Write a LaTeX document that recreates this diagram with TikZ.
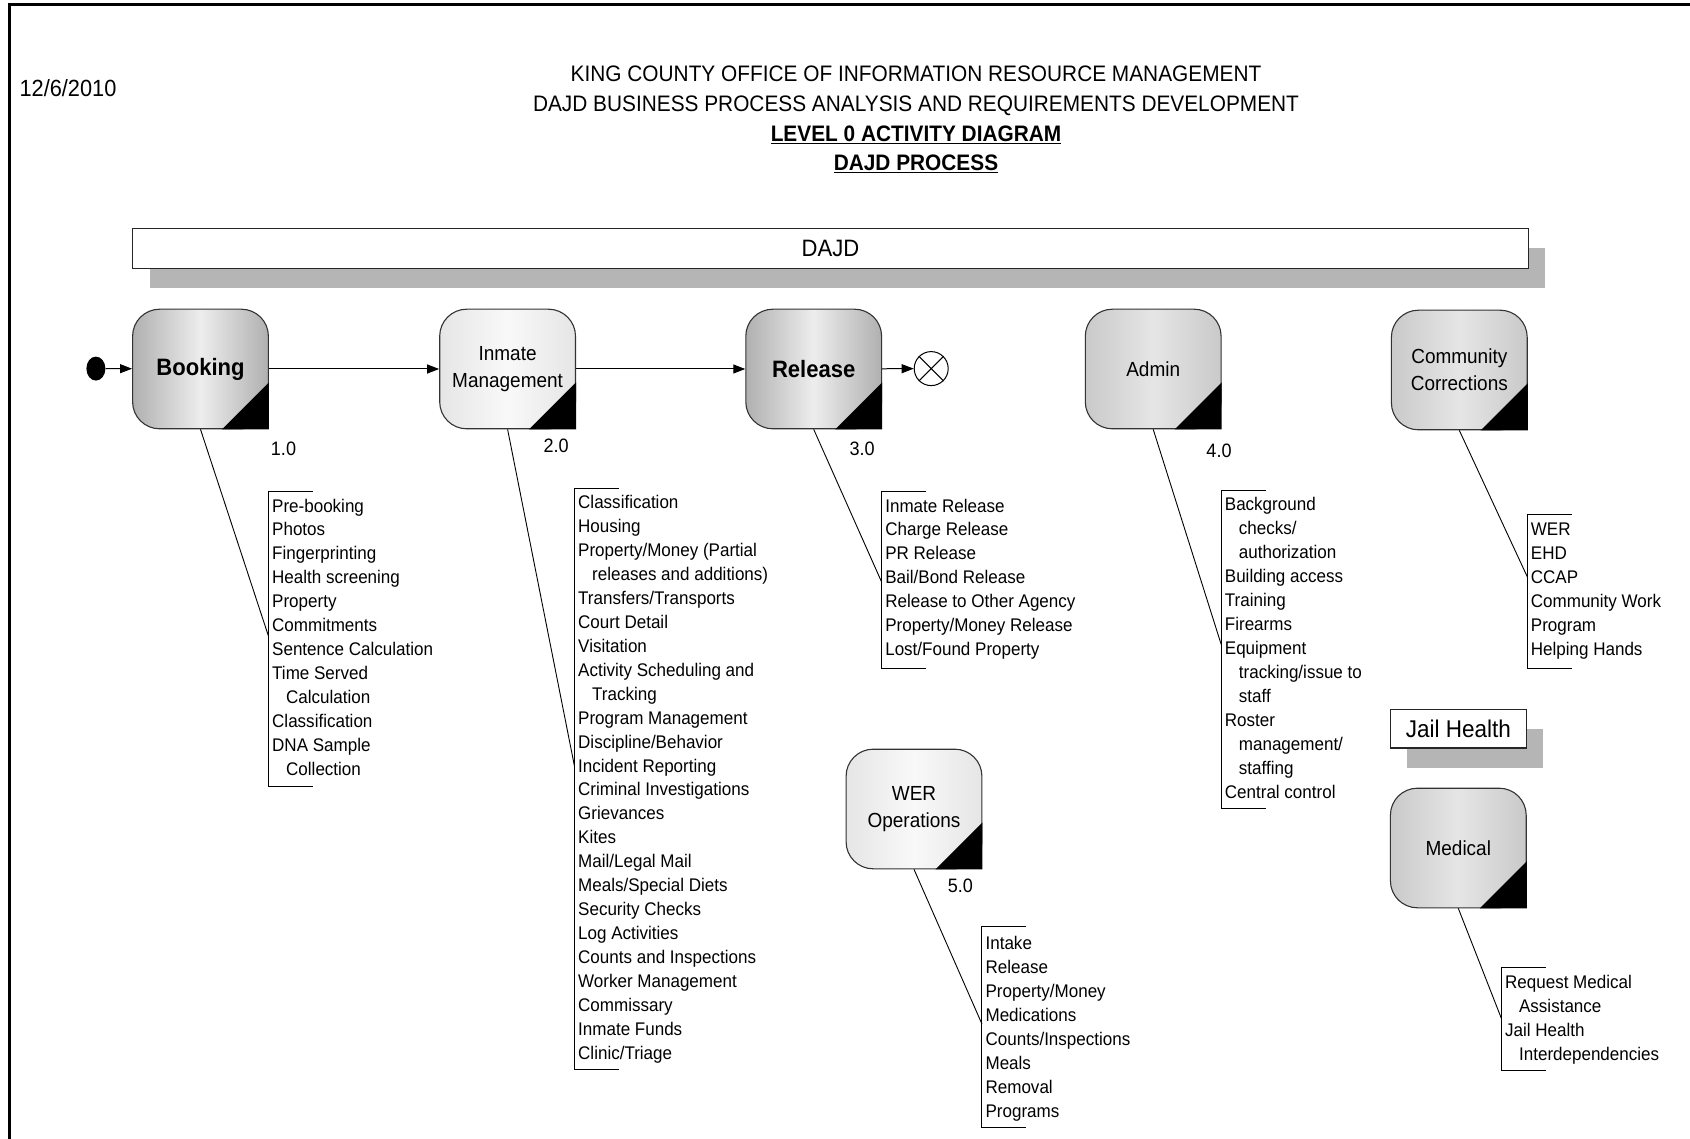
\documentclass[tikz,border=0pt]{standalone}
\usepackage{fontspec}
\setmainfont[FakeStretch=0.93]{Liberation Sans}
\usetikzlibrary{arrows.meta,shapes.geometric,calc}
\newcommand\lstfont{\fontsize{18.3}{24}\selectfont}
\newcommand\actfont{\fontsize{20.4}{27}\selectfont}
\newcommand\actbfont{\fontsize{23.7}{27}\selectfont\bfseries}
\newcommand\ttlfont{\fontsize{22.4}{30}\selectfont}
\newcommand\lstind{\hspace*{14pt}}
\newcommand\drawlist[4]{%
  \foreach \itm [count=\nn] in {#4} {%
    \node[lst] (#1\nn) at (#2,{#3+6.5+(\nn-1)*23.93}) {\itm};
  }%
}
\newcommand\bracketat[4]{%
  \node[bknode, minimum height=#4pt] (#1) at (#2,#3) {};
  \draw[bkt] (#1.north east) -- (#1.north west) -- (#1.south west) -- (#1.south east);
}
\newcommand\cornertri[1]{%
  \fill[black] ([xshift=-47pt]#1.south east) -- (#1.south east) -- ([yshift=47pt]#1.south east) -- cycle;
}
\begin{document}
\begin{tikzpicture}[x=1pt,y=-1pt,
  lst/.style={anchor=base west, inner sep=0pt, font=\lstfont},
  num/.style={inner sep=0pt, font=\fontsize{19.4}{21}\selectfont},
  ttl/.style={anchor=base, inner sep=0pt, font=\ttlfont},
  act/.style={draw=black!80, line width=1.1pt, rounded corners=27pt, minimum width=135.8pt, minimum height=119.6pt, inner sep=0pt, align=center, font=\actfont},
  darkfill/.style={left color=gray!62, right color=gray!62, middle color=gray!14},
  midfill/.style={left color=gray!42, right color=gray!42, middle color=gray!20},
  lightfill/.style={left color=gray!20, right color=gray!20, middle color=gray!5},
  flow/.style={line width=1pt, -{Triangle[length=12pt,width=9pt]}},
  conn/.style={line width=0.9pt},
  bkt/.style={line width=1pt},
  bknode/.style={anchor=north west, minimum width=44pt, inner sep=0pt},
  shadowfill/.style={fill=gray!58},
  banner/.style={draw=black!85, line width=1.3pt, fill=white, inner sep=0pt}
]
\useasboundingbox (0,0) rectangle (1690,1139);
% frame
\draw[line width=3pt] (1690,5) -- (9,5) -- (9,1139);
% header
\node[anchor=base west, inner sep=0pt, font=\fontsize{23.4}{25}\selectfont] (date) at (19.4,96.8) {12/6/2010};
\node[ttl] (t1) at (916,81.3) {KING COUNTY OFFICE OF INFORMATION RESOURCE MANAGEMENT};
\node[ttl] (t2) at (916,111.5) {DAJD BUSINESS PROCESS ANALYSIS AND REQUIREMENTS DEVELOPMENT};
\node[ttl] (t3) at (916,141.6) {\bfseries\underline{LEVEL 0 ACTIVITY DIAGRAM}};
\node[ttl] (t4) at (916,170.7) {\bfseries\underline{DAJD PROCESS}};
% DAJD bar
\fill[shadowfill] (149.6,248.5) rectangle (1545.3,288.4);
\node[banner, minimum width=1395.7pt, minimum height=39.9pt, font=\fontsize{23.7}{25}\selectfont] (dajd) at (830.5,248.5) {DAJD};
% Jail Health
\fill[shadowfill] (1407.4,729.2) rectangle (1543.2,768);
\node[banner, minimum width=135.8pt, minimum height=38.8pt, font=\fontsize{24.2}{26}\selectfont] (jh) at (1458.3,728.6) {Jail Health};
% activities
\node[act, darkfill, font=\actbfont] (B) at (200.5,369) {Booking};
\node[act, lightfill] (IM) at (507.6,369) {Inmate\\Management};
\node[act, darkfill, font=\actbfont] (R) at (813.7,369) {Release};
\node[act, midfill] (A) at (1153.2,369) {Admin};
\node[act, midfill] (CC) at (1459.3,370) {Community\\Corrections};
\node[act, lightfill] (W) at (914,809) {WER\\Operations};
\node[act, midfill] (M) at (1458.3,848) {Medical};
\cornertri{B}\cornertri{IM}\cornertri{R}\cornertri{A}\cornertri{CC}\cornertri{W}\cornertri{M}
% numbers
\node[num] (n1) at (283.5,448.4) {1.0};
\node[num] (n2) at (556.1,446.2) {2.0};
\node[num] (n3) at (862.2,448.4) {3.0};
\node[num] (n4) at (1219,450.5) {4.0};
\node[num] (n5) at (960.3,886) {5.0};
% start / end
\node[ellipse, fill=black, minimum width=19pt, minimum height=24pt, inner sep=0pt] (start) at (95.9,368.6) {};
\node[circle, draw, line width=1pt, minimum size=34pt, inner sep=0pt] (E) at (931.2,368.6) {};
\draw[line width=1pt] (E.north east) -- (E.south west) (E.north west) -- (E.south east);
\draw[flow] (start) -- (B);
\draw[flow] (B) -- (IM);
\draw[flow] (IM) -- (R);
\draw[flow] (R) -- (E);
% brackets
\bracketat{bkB}{268.4}{491.5}{294.2}
\bracketat{bkI}{574.5}{488.2}{581}
\bracketat{bkR}{881.6}{491.5}{176.7}
\bracketat{bkA}{1221.2}{490.4}{318}
\bracketat{bkC}{1527.2}{514.1}{154.1}
\bracketat{bkW}{981.9}{926.9}{200.5}
\bracketat{bkM}{1501.4}{967.9}{102.4}
% connectors
\coordinate (cB) at (268.4,635.9);
\coordinate (cI) at (574.5,766.3);
\coordinate (cR) at (881.6,582);
\coordinate (cA) at (1221.2,644.5);
\coordinate (cC) at (1527.2,576.6);
\coordinate (cW) at (981.9,1023.9);
\coordinate (cM) at (1501.4,1018.5);
\draw[conn] (B.south) -- (cB);
\draw[conn] (IM.south) -- (cI);
\draw[conn] (R.south) -- (cR);
\draw[conn] (A.south) -- (cA);
\draw[conn] (CC.south) -- (cC);
\draw[conn] (W.south) -- (cW);
\draw[conn] (M.south) -- (cM);
% lists
\drawlist{lb}{272}{505.5}{Pre-booking, Photos, Fingerprinting, Health screening, Property, Commitments, Sentence Calculation, Time Served, \lstind Calculation, Classification, DNA Sample, \lstind Collection}
\drawlist{li}{578}{502.3}{Classification, Housing, {Property/Money (Partial}, {\lstind releases and additions)}, Transfers/Transports, Court Detail, Visitation, Activity Scheduling and, \lstind Tracking, Program Management, Discipline/Behavior, Incident Reporting, Criminal Investigations, Grievances, Kites, Mail/Legal Mail, Meals/Special Diets, Security Checks, Log Activities, Counts and Inspections, Worker Management, Commissary, Inmate Funds, Clinic/Triage}
\drawlist{lr}{885.1}{505.5}{Inmate Release, Charge Release, PR Release, Bail/Bond Release, Release to Other Agency, Property/Money Release, Lost/Found Property}
\drawlist{la}{1224.7}{504.4}{Background, \lstind checks/, \lstind authorization, Building access, Training, Firearms, Equipment, \lstind tracking/issue to, \lstind staff, Roster, \lstind management/, \lstind staffing, Central control}
\drawlist{lc}{1530.7}{529.2}{WER, EHD, CCAP, Community Work, Program, Helping Hands}
\drawlist{lw}{985.4}{943.1}{Intake, Release, Property/Money, Medications, Counts/Inspections, Meals, Removal, Programs}
\drawlist{lm}{1504.9}{981.9}{Request Medical, \lstind Assistance, Jail Health, \lstind Interdependencies}
\end{tikzpicture}
\end{document}
